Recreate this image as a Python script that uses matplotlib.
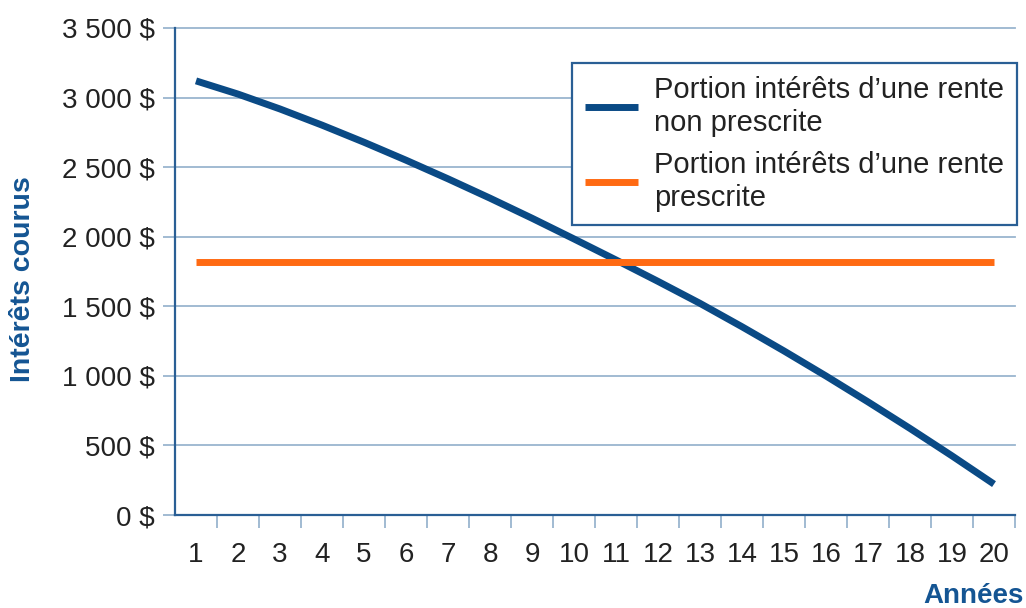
import matplotlib
matplotlib.use("Agg")
import matplotlib.pyplot as plt
from matplotlib.ticker import FixedLocator, FuncFormatter

plt.rcParams['font.family'] = ['Liberation Sans', 'DejaVu Sans']

years = list(range(1, 21))
non_prescrite = [3120, 3025, 2918, 2802, 2679, 2550, 2416, 2277, 2133, 1984,
                 1833, 1679, 1521, 1353, 1179, 999, 813, 622, 425, 222]
prescrite = [1820] * 20
y_ticks = [0, 500, 1000, 1500, 2000, 2500, 3000, 3500]
label_non = "Portion intérêts d\u2019une rente\nnon prescrite"
label_pre = "Portion intérêts d\u2019une rente\nprescrite"

BLUE = '#0a4a85'
ORANGE = '#ff6a13'
GRID = '#9ab5cf'
SPINE = '#2a5f95'
LABEL = '#145593'
TEXT = '#222222'

fig = plt.figure(figsize=(10.26, 6.08), dpi=100)
ax = fig.add_axes([175/1026, 1-515/608, 840/1026, 487/608])

ax.plot(years, non_prescrite, color=BLUE, lw=5, solid_capstyle='butt',
        solid_joinstyle='round', label=label_non, zorder=3)
ax.plot(years, prescrite, color=ORANGE, lw=5, solid_capstyle='butt', label=label_pre, zorder=3)

ax.set_xlim(0.5, 20.5)
ax.set_ylim(0, 3500)

def fmt(v, pos):
    s = f"{int(v):,}".replace(",", " ")
    return s + " $"

ax.yaxis.set_major_locator(FixedLocator(y_ticks))
ax.yaxis.set_major_formatter(FuncFormatter(fmt))
ax.set_xticks(years)
ax.set_xticks([y + 0.5 for y in years], minor=True)

ax.grid(axis='y', color=GRID, lw=1.3, zorder=1)
for gl in ax.get_ygridlines():
    gl.set_clip_on(False)

for s in ['top', 'right']:
    ax.spines[s].set_visible(False)
for s in ['left', 'bottom']:
    ax.spines[s].set_color(SPINE)
    ax.spines[s].set_linewidth(1.6)
    ax.spines[s].set_zorder(4)

ax.tick_params(axis='y', which='major', length=8.6, width=1.3, color=GRID,
               pad=5.8, labelsize=20, labelcolor=TEXT)
ax.tick_params(axis='x', which='major', length=0, pad=19.5, labelsize=20, labelcolor=TEXT)
ax.tick_params(axis='x', which='minor', length=9.4, width=1.3, color=GRID, direction='out')

leg = ax.legend(loc='upper right', bbox_to_anchor=(1.0024, 0.928), borderaxespad=0,
                fontsize=21, frameon=True, fancybox=False, edgecolor=SPINE,
                framealpha=1, handlelength=1.8, handletextpad=0.55,
                labelspacing=0.5, borderpad=0.45)
leg.get_frame().set_linewidth(1.6)
for t in leg.get_texts():
    t.set_color(TEXT)
    t.set_linespacing(1.2)

fig.text(23/1026, 1-279/608, "Intérêts courus", rotation=90, ha='center', va='center',
         fontsize=20.5, fontweight='bold', color=LABEL)
fig.text(1024/1026, 1-596/608, "Années", ha='right', va='center',
         fontsize=20, fontweight='bold', color=LABEL)

fig.savefig("out.png", dpi=100)
